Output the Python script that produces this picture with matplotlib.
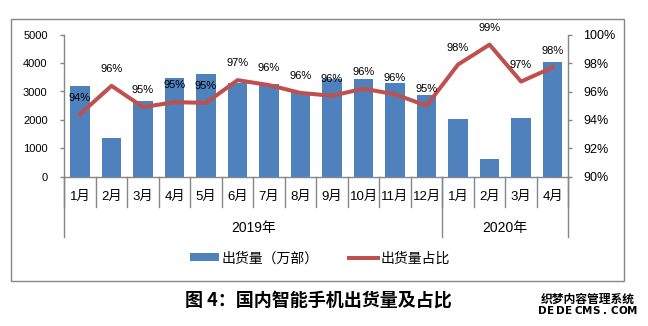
import matplotlib
matplotlib.use("Agg")
import matplotlib.pyplot as plt
from matplotlib.lines import Line2D
from matplotlib.patches import Patch, Rectangle
from matplotlib.ticker import FuncFormatter, MultipleLocator

plt.rcParams['font.family'] = ['Liberation Sans', 'Noto Sans CJK SC']

# ---- data ----
months = ["1月", "2月", "3月", "4月", "5月", "6月", "7月", "8月", "9月", "10月", "11月", "12月",
          "1月", "2月", "3月", "4月"]
years = ["2019年", "2020年"]
months_per_year = [12, 4]
shipments = [3190, 1360, 2670, 3480, 3620, 3305, 3260, 2975, 3425, 3435, 3305, 2875,
             2030, 635, 2065, 4035]
share_pct = [94.4, 96.4, 94.9, 95.25, 95.2, 96.8, 96.45, 95.9, 95.7, 96.2, 95.8, 95.0,
             97.9, 99.3, 96.7, 97.7]
legend_labels = ["出货量（万部）", "出货量占比"]
title = "图 4：国内智能手机出货量及占比"

BLUE = "#4F81BD"
RED = "#C0504D"
GRAY = "#868686"

W, H = 648, 326
fig = plt.figure(figsize=(W / 100, H / 100), dpi=100)

# outer chart border
fig.patches.append(Rectangle((10.7 / W, 1 - 281 / H), (624 - 10.7) / W, (281 - 19.3) / H,
                             transform=fig.transFigure, fill=False, edgecolor=GRAY, lw=1.0))

x0, x1, y0, y1 = 64.3, 568.3, 176.7, 34.7
ax = fig.add_axes([x0 / W, 1 - y0 / H, (x1 - x0) / W, (y0 - y1) / H])
ax2 = ax.twinx()

n = len(months)
xs = list(range(n))
ax.bar(xs, shipments, width=0.63, color=BLUE, zorder=2)
ax.set_xlim(-0.5, n - 0.5)
ax.set_ylim(0, 5000)
ax.yaxis.set_major_locator(MultipleLocator(1000))
ax.set_xticks([])

ax2.plot(xs, share_pct, color=RED, lw=2.9, zorder=3, solid_joinstyle='round')
ax2.set_ylim(90, 100)
ax2.yaxis.set_major_locator(MultipleLocator(2))
ax2.yaxis.set_major_formatter(FuncFormatter(lambda v, p: f"{v:.0f}%"))

for v_x, v in zip(xs, share_pct):
    ax2.annotate(f"{v:.0f}%", (v_x, v), xytext=(0, 12), textcoords='offset points',
                 ha='center', va='center', fontsize=8, color='black', zorder=5)

for a in (ax, ax2):
    a.spines['top'].set_visible(False)
    for s in ('left', 'right', 'bottom'):
        a.spines[s].set_color(GRAY)
        a.spines[s].set_linewidth(1.0)
    a.patch.set_visible(False)
ax.spines['right'].set_visible(False)
ax2.spines['left'].set_visible(False)
ax2.spines['bottom'].set_visible(False)

ax.tick_params(axis='y', direction='out', length=3, width=1, color=GRAY, labelsize=8, pad=9)
ax2.tick_params(axis='y', direction='out', length=2.6, width=1, color=GRAY, labelsize=9, pad=8)

# category axis: month labels, separators, year groups
trans = ax.get_xaxis_transform()
hpx = y0 - y1
def yfrac(py):
    return (y0 - py) / hpx

for k in range(n + 1):
    ax.add_line(Line2D([k - 0.5, k - 0.5], [0, yfrac(207.3)], transform=trans, color=GRAY,
                       lw=1.0, clip_on=False))
for i, m in enumerate(months):
    ax.text(i, yfrac(197), m, transform=trans, ha='center', va='center', fontsize=9.5)

start = 0
bounds = [0]
for yl, cnt in zip(years, months_per_year):
    ax.text(start + cnt / 2 - 0.5, yfrac(228.3), yl, transform=trans, ha='center', va='center',
            fontsize=10)
    start += cnt
    bounds.append(start)
for b in bounds:
    ax.add_line(Line2D([b - 0.5, b - 0.5], [0, yfrac(236.7)], transform=trans, color=GRAY,
                       lw=1.0, clip_on=False))

# legend
handles = [Patch(facecolor=BLUE, edgecolor='none'), Line2D([0], [0], color=RED, lw=2.9)]
fig.legend(handles, legend_labels, loc='center', bbox_to_anchor=(320 / W, 1 - 258.3 / H),
           ncol=2, frameon=False, fontsize=10, handlelength=2.1, handleheight=0.5,
           handletextpad=0.15, columnspacing=2.2)

# caption
fig.text(318 / W, 1 - 300 / H, title, ha='center', va='center', fontsize=13,
         fontweight='bold', family=['Noto Sans CJK SC'])

# source watermark text
fig.text(588 / W, 1 - 299.5 / H, "织梦内容管理系统", ha='center', va='center', fontsize=8.5,
         fontweight='bold', family=['Noto Sans CJK SC'])
wm = "DEDECMS.COM"
for i, ch in enumerate(wm):
    fig.text((542 + i * 9.0) / W, 1 - 310.5 / H, ch, ha='center', va='center', fontsize=7.5,
             fontweight='bold', family=['DejaVu Sans'])

fig.savefig("out.png", dpi=100)
